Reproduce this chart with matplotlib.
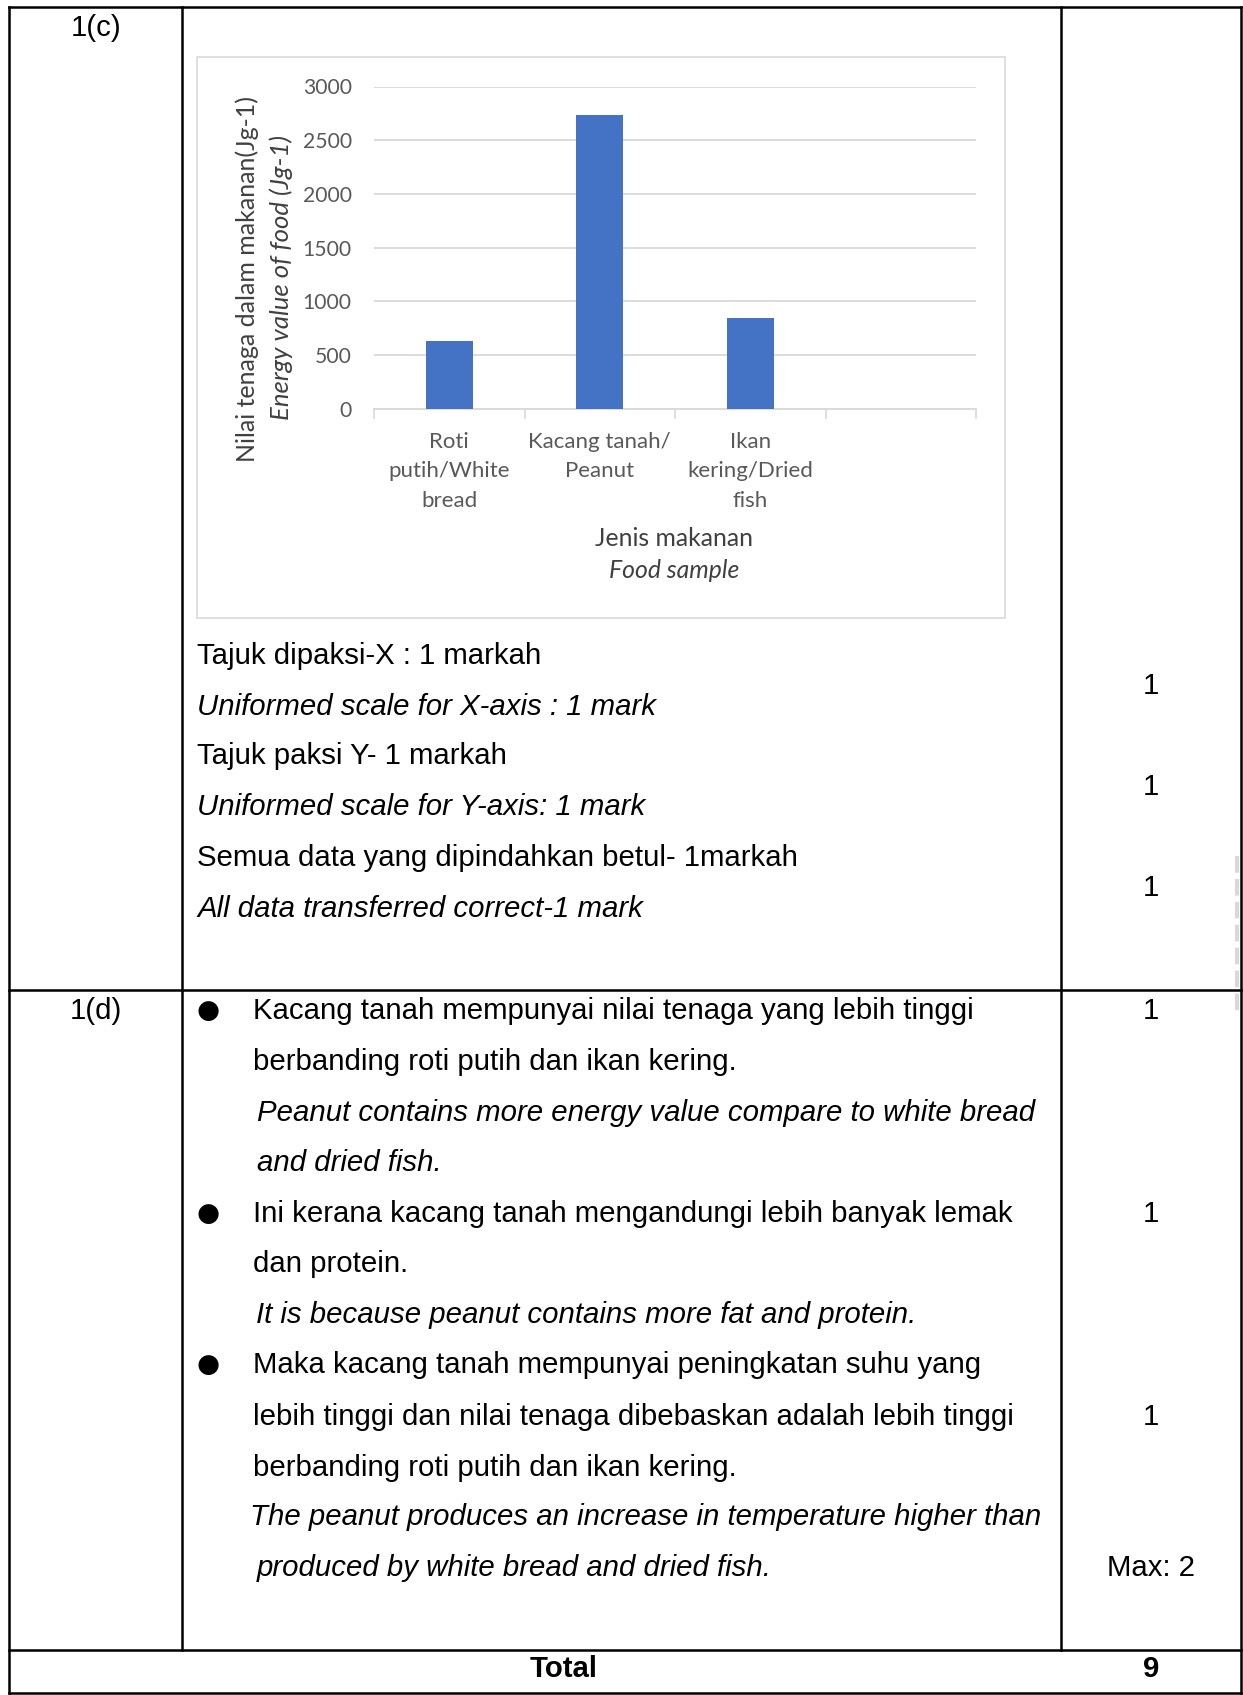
import matplotlib
matplotlib.use("Agg")
import matplotlib.pyplot as plt

# ---- data ----
categories = ["Roti\nputih/White\nbread", "Kacang tanah/\nPeanut", "Ikan\nkering/Dried\nfish", ""]
energy_values = [625, 2730, 840]
y_ticks = [0, 500, 1000, 1500, 2000, 2500, 3000]
y_label_ms = "Nilai tenaga dalam makanan(Jg-1)"
y_label_en = "Energy value of food (Jg-1)"
x_label_ms = "Jenis makanan"
x_label_en = "Food sample"

criteria_c = [
    ("Tajuk dipaksi-X : 1 markah", False),
    ("Uniformed scale for X-axis : 1 mark", True),
    ("Tajuk paksi Y- 1 markah", False),
    ("Uniformed scale for Y-axis: 1 mark", True),
    ("Semua data yang dipindahkan betul- 1markah", False),
    ("All data transferred correct-1 mark", True),
]
marks_c = ["1", "1", "1"]

answer_d = [
    # (text, italic, x, bullet)
    ("Kacang tanah mempunyai nilai tenaga yang lebih tinggi", False, 253, True),
    ("berbanding roti putih dan ikan kering.", False, 253, False),
    ("Peanut contains more energy value compare to white bread", True, 257, False),
    ("and dried fish.", True, 257, False),
    ("Ini kerana kacang tanah mengandungi lebih banyak lemak", False, 253, True),
    ("dan protein.", False, 253, False),
    ("It is because peanut contains more fat and protein.", True, 256, False),
    ("Maka kacang tanah mempunyai peningkatan suhu yang", False, 253, True),
    ("lebih tinggi dan nilai tenaga dibebaskan adalah lebih tinggi", False, 253, False),
    ("berbanding roti putih dan ikan kering.", False, 253, False),
    ("The peanut produces an increase in temperature higher than", True, 250, False),
    ("produced by white bread and dried fish.", True, 257, False),
]
marks_d = [("1", 0), ("1", 4), ("1", 8), ("Max: 2", 11)]

W, H = 1243, 1695
fig = plt.figure(figsize=(W / 100, H / 100), dpi=100)
fig.patch.set_facecolor("white")

page = fig.add_axes([0, 0, 1, 1])
page.set_xlim(0, W)
page.set_ylim(H, 0)
page.axis("off")

# ---- table lines ----
lw = 1.8
L, C1, C2, R = 9, 182, 1061, 1241
T, R1, R2, B = 7, 990, 1650, 1693
for y in (T, R1, R2, B):
    page.plot([L, R], [y, y], color="black", lw=lw, solid_capstyle="projecting")
for x in (L, R):
    page.plot([x, x], [T, B], color="black", lw=lw, solid_capstyle="projecting")
for x in (C1, C2):
    page.plot([x, x], [T, R2], color="black", lw=lw)

# faint scan artifact near the right edge
page.plot([1237, 1237], [856, 1015], color="#d0d0d0", lw=3, alpha=0.8,
          linestyle=(0, (4, 1.5)))

body = ["Liberation Sans", "DejaVu Sans"]
fs = 21.2
dy = 3

page.text(96, 25 + dy, "1(c)", fontsize=fs, family=body, ha="center", va="center")
page.text(96, 1008 + dy, "1(d)", fontsize=fs, family=body, ha="center", va="center")

# ---- chart box ----
page.add_patch(plt.Rectangle((197, 57), 808, 561, fill=False, ec="#d9d9d9", lw=1.2))

# ---- chart ----
ax_left, ax_right = 374, 976
ax_top, ax_bot = 86.5, 408.6
ax = fig.add_axes([ax_left / W, 1 - ax_bot / H, (ax_right - ax_left) / W, (ax_bot - ax_top) / H])
xpos = list(range(len(categories)))
ax.bar(xpos[:len(energy_values)], energy_values, width=0.31, color="#4472C4", zorder=3)
ax.set_xlim(-0.5, len(categories) - 0.5)
ax.set_ylim(0, 3000)
ax.set_yticks(y_ticks)
ax.set_yticklabels([str(v) for v in y_ticks])
ax.set_xticks(xpos)
ax.set_xticklabels(categories)
ax.set_xticks([i - 0.5 for i in range(len(categories) + 1)], minor=True)
chart_font = "Lato"
tick_color = "#595959"
for lab in ax.get_xticklabels():
    lab.set_fontfamily(chart_font)
    lab.set_fontsize(16)
    lab.set_color(tick_color)
    lab.set_linespacing(1.62)
for lab in ax.get_yticklabels():
    lab.set_fontfamily(chart_font)
    lab.set_fontsize(15.2)
    lab.set_color(tick_color)
ax.tick_params(axis="x", which="major", length=0, pad=16.5)
ax.tick_params(axis="x", which="minor", length=7, color="#d9d9d9", width=1.2)
ax.tick_params(axis="y", length=0, pad=16)
ax.grid(axis="y", color="#d9d9d9", lw=1.3, zorder=0)
for s in ("top", "left", "right"):
    ax.spines[s].set_visible(False)
ax.spines["bottom"].set_color("#d9d9d9")
ax.spines["bottom"].set_linewidth(1.3)
ax.set_facecolor("none")

page.text(247.5, 279, y_label_ms, rotation=90, fontsize=18, family=chart_font,
          color="#404040", ha="center", va="center")
page.text(281, 278, y_label_en, rotation=90, fontsize=18.5, family=chart_font,
          style="italic", color="#404040", ha="center", va="center")
page.text(674.5, 538, x_label_ms, fontsize=17.8, family=chart_font, color="#404040",
          ha="center", va="center")
page.text(674.5, 571, x_label_en, fontsize=17.8, family=chart_font, style="italic",
          color="#404040", ha="center", va="center")

# ---- criteria for 1(c) ----
crit_y = [653, 704, 753, 804, 855, 906]
for (txt, it), y in zip(criteria_c, crit_y):
    page.text(197, y + dy, txt, fontsize=fs, family=body, style="italic" if it else "normal",
              ha="left", va="center")
for m, y in zip(marks_c, [683, 784, 885]):
    page.text(1151, y + dy, m, fontsize=fs, family=body, ha="center", va="center")

# ---- answer for 1(d) ----
d_y = [1008, 1059, 1110, 1160, 1211, 1261, 1312, 1362, 1414, 1465, 1514, 1565]
for (txt, it, x, bul), y in zip(answer_d, d_y):
    page.text(x, y + dy, txt, fontsize=fs, family=body, style="italic" if it else "normal",
              ha="left", va="center")
    if bul:
        page.text(208, y + dy, "\u25cf", fontsize=19, family=["DejaVu Sans"],
                  ha="center", va="center")
for m, idx in marks_d:
    page.text(1151, d_y[idx] + dy, m, fontsize=fs, family=body, ha="center", va="center")

# ---- total ----
page.text(564, 1669, "Total", fontsize=fs, family=body, weight="bold", ha="center", va="center")
page.text(1151, 1669, "9", fontsize=fs, family=body, weight="bold", ha="center", va="center")

fig.savefig("out.png", dpi=100, facecolor="white")
